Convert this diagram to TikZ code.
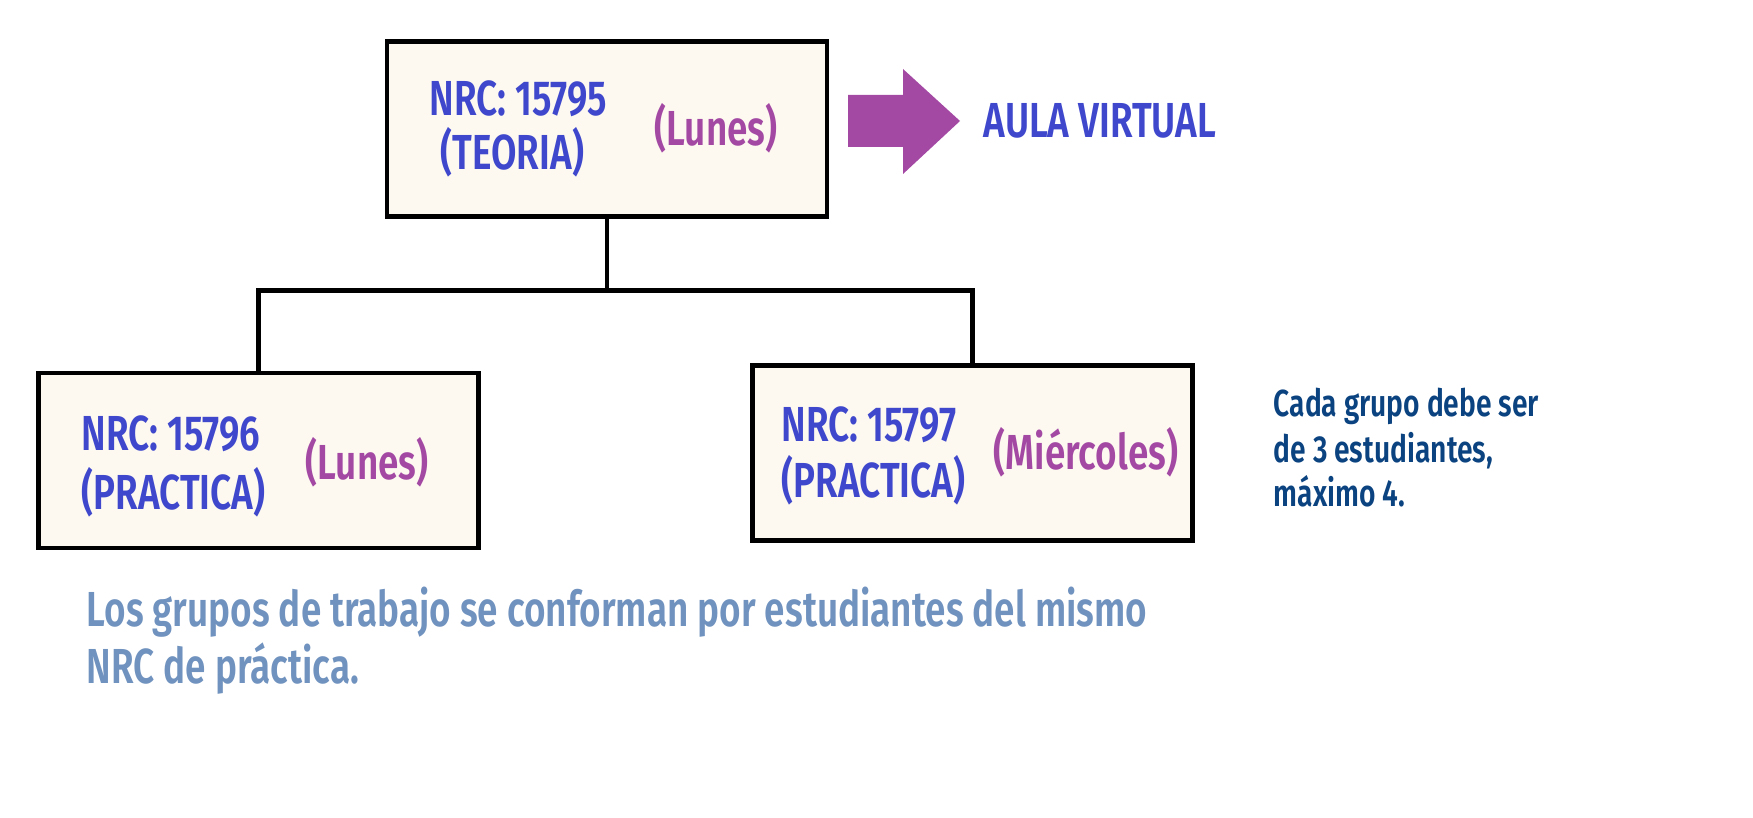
\documentclass[tikz,border=0pt]{standalone}
\usepackage{fontspec}
\setmainfont[FakeStretch=0.75, BoldFont={Fira Sans SemiBold}]{Fira Sans}
\definecolor{nrcblue}{HTML}{3F48CC}
\definecolor{daypurple}{HTML}{A349A4}
\definecolor{noteblue}{HTML}{0B4380}
\definecolor{footblue}{HTML}{7092BE}
\definecolor{boxfill}{HTML}{FDF9F0}
\begin{document}
\begin{tikzpicture}[
    nrcbox/.style={draw=black, line width=1.4pt, fill=boxfill, minimum width=4.40cm, minimum height=1.75cm, inner sep=0pt},
    txt/.style={inner sep=0pt, anchor=base west, font=\fontsize{14}{16}\selectfont\bfseries},
    note/.style={inner sep=0pt, anchor=base west, font=\fontsize{10.7}{12}\selectfont\bfseries, text=noteblue}]
	        \useasboundingbox (0, 0) rectangle (17.53, -8.18);
	        \node [nrcbox] at (6.07, -1.29) (T) {};
	        \node [nrcbox] at (2.585, -4.605) (L) {};
	        \node [nrcbox] at (9.725, -4.53) (R) {};
	        \node [txt, text=nrcblue] at (4.29, -1.155) (T1) {NRC: 15795};
	        \node [txt, text=nrcblue] at (4.40, -1.70) (T2) {(TEORIA)};
	        \node [txt, text=daypurple] at (6.54, -1.455) (T3) {(Lunes)};
	        \node [txt, text=nrcblue] at (0.81, -4.51) (L1) {NRC: 15796};
	        \node [txt, text=nrcblue] at (0.81, -5.10) (L2) {(PRACTICA)};
	        \node [txt, text=daypurple] at (3.05, -4.80) (L3) {(Lunes)};
	        \node [txt, text=nrcblue] at (7.81, -4.42) (R1) {NRC: 15797};
	        \node [txt, text=nrcblue] at (7.81, -4.98) (R2) {(PRACTICA)};
	        \node [txt, text=daypurple] at (9.93, -4.70) (R3) {(Miércoles)};
	        \node [txt, text=nrcblue] at (9.83, -1.38) (AV) {AULA VIRTUAL};
	        \node [note] at (12.73, -4.17) (N1) {Cada grupo debe ser};
	        \node [note] at (12.73, -4.63) (N2) {de 3 estudiantes,};
	        \node [note] at (12.73, -5.07) (N3) {máximo 4.};
	        \node [txt, text=footblue] at (0.86, -6.27) (F1) {Los grupos de trabajo se conforman por estudiantes del mismo};
	        \node [txt, text=footblue] at (0.86, -6.83) (F2) {NRC de práctica.};
	        \fill [daypurple] (8.48, -0.95) -- (9.03, -0.95) -- (9.03, -0.69) -- (9.60, -1.21)
	            -- (9.03, -1.74) -- (9.03, -1.47) -- (8.48, -1.47) -- cycle;
	        \coordinate (J) at (6.07, -2.905);
	        \draw [black, line width=1.4pt] (T.south) -- (J);
	        \draw [black, line width=1.4pt] (L.north) |- (J);
	        \draw [black, line width=1.4pt] (J) -| (R.north);
\end{tikzpicture}
\end{document}
